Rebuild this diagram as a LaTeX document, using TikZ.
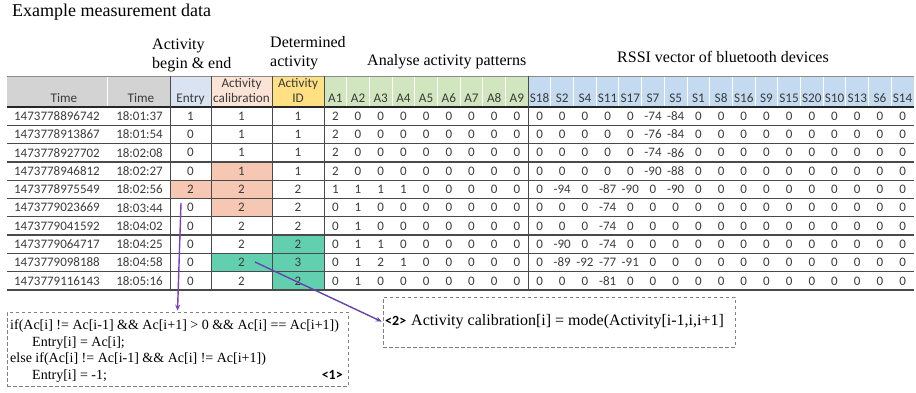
\documentclass[tikz,border=0pt]{standalone}
\usepackage{fontspec}
\setmainfont{Liberation Serif}
\newfontfamily\xlsfont{Carlito}
\usetikzlibrary{arrows.meta}

\definecolor{txt}{HTML}{3B3B3B}
\definecolor{hdgray}{HTML}{D3D3D3}
\definecolor{hdblue}{HTML}{DAE3F2}
\definecolor{hdpeach}{HTML}{FBE3D5}
\definecolor{hdyellow}{HTML}{FFE083}
\definecolor{hdgreen}{HTML}{D1E5BE}
\definecolor{hdsblue}{HTML}{C3DAF0}
\definecolor{peach}{HTML}{F6C8B3}
\definecolor{tealmark}{HTML}{62D0AE}
\definecolor{gridline}{HTML}{4A4A4A}
\definecolor{flowA}{HTML}{7D3FBE}
\definecolor{flowB}{HTML}{6443AE}

% one data row: index, timestamp, clock time, entry, calibration, activity id
\newcommand\tabrow[6]{%
  \node[num, anchor=east] (ts#1) at (100,{107+(#1-0.5)*18.3}) {#2};
  \node[num, anchor=east] (tm#1) at (163,{107+(#1-0.5)*18.3}) {#3};
  \node[num] (en#1) at (190.5,{107+(#1-0.5)*18.3}) {#4};
  \node[num] (ca#1) at (241.5,{107+(#1-0.5)*18.3}) {#5};
  \node[num] (id#1) at (298,{107+(#1-0.5)*18.3}) {#6};
}
% activity pattern and RSSI values of one row
\newcommand\patrow[2]{%
  \foreach \v [count=\k] in {#2} {
    \node[num] (v#1-\k) at ({324+(\k-0.5)*22.69},{107+(#1-0.5)*18.3}) {\v};
  }
}

\begin{document}
\begin{tikzpicture}[x=1pt,y=-1pt,
  num/.style={font={\xlsfont\fontsize{13}{15}\selectfont}, text=txt, inner sep=0pt},
  head/.style={font={\xlsfont\fontsize{13.2}{15}\selectfont}, text=txt, inner sep=0pt, anchor=base},
  group/.style={font={\fontsize{16}{18}\selectfont}, inner sep=0pt, anchor=base west},
  code/.style={font={\fontsize{14}{16}\selectfont}, inner sep=0pt, anchor=base west},
  tag/.style={font={\xlsfont\bfseries\fontsize{14}{16}\selectfont}, inner sep=0pt},
  dashbox/.style={draw=black!50, line width=0.7pt, dash pattern=on 3.5pt off 2.5pt, inner sep=0pt},
  rowline/.style={draw=gridline, line width=1.3pt},
  colline/.style={draw=gridline, line width=0.9pt},
  flow1/.style={draw=flowA, line width=1.4pt, -{Stealth[length=6pt,width=5pt]}, shorten >=1pt},
  flow2/.style={draw=flowB, line width=1.4pt, -{Stealth[length=6pt,width=5pt]}, shorten >=1pt}]
\useasboundingbox (0,0) rectangle (916,392);

% titles above the table
\node[anchor=base west, inner sep=0pt, font={\fontsize{18}{20}\selectfont}] (title) at (12,16) {Example measurement data};
\node[group] (gEntryA) at (152,49) {Activity};
\node[group] (gEntryB) at (152,68) {begin \& end};
\node[group] (gDetA) at (270,47) {Determined};
\node[group] (gDetB) at (270,66) {activity};
\node[group] (gPat) at (367,65) {Analyse activity patterns};
\node[group] (gRssi) at (617,62) {RSSI vector of bluetooth devices};

% header backgrounds
\fill[hdgray] (7,76) rectangle (170,107);
\fill[hdblue] (170,76) rectangle (211,107);
\fill[hdpeach] (211,76) rectangle (272,107);
\fill[hdyellow] (272,76) rectangle (324,107);
\fill[hdgreen] (324,76) rectangle (528,107);
\fill[hdsblue] (528,76) rectangle (914,107);
\draw[white, line width=1pt] (107,76) -- (107,107);
\foreach \k in {1,...,25} {
  \draw[white, line width=1pt] ({324+\k*22.69},76) -- ({324+\k*22.69},107);
}

% highlighted cells
\fill[peach] (211,{107+3*18.3}) rectangle (272,{107+4*18.3});
\fill[peach] (170,{107+4*18.3}) rectangle (211,{107+5*18.3});
\fill[peach] (211,{107+4*18.3}) rectangle (272,{107+6*18.3});
\fill[tealmark] (272,{107+7*18.3}) rectangle (324,290);
\fill[tealmark] (211,{107+8*18.3}) rectangle (272,{107+9*18.3});

% grid
\draw[draw=black!45, line width=0.6pt] (7,76) -- (914,76);
\draw[draw=black!85, line width=1.8pt] (7,107) -- (914,107);
\foreach \r in {1,...,10} {
  \draw[rowline] (7,{107+\r*18.3}) -- (914,{107+\r*18.3});
}
\foreach \x in {170,211,272,324,528} {
  \draw[colline] (\x,76) -- (\x,290);
}

% header labels
\node[head] (hTs) at (64,102.6) {Time};
\node[head] (hTm) at (141,102.6) {Time};
\node[head] (hEn) at (190.5,102.6) {Entry};
\node[head] (hCaA) at (241.5,87.6) {Activity};
\node[head] (hCaB) at (241.5,102.6) {calibration};
\node[head] (hIdA) at (298,87.6) {Activity};
\node[head] (hIdB) at (298,102.6) {ID};
\foreach \h [count=\k] in {A1,A2,A3,A4,A5,A6,A7,A8,A9,S18,S2,S4,S11,S17,S7,S5,S1,S8,S16,S9,S15,S20,S10,S13,S6,S14} {
  \node[head] (h\k) at ({324+(\k-0.5)*22.69},102.6) {\h};
}

% data rows
\tabrow{1}{1473778896742}{18:01:37}{1}{1}{1}
\tabrow{2}{1473778913867}{18:01:54}{0}{1}{1}
\tabrow{3}{1473778927702}{18:02:08}{0}{1}{1}
\tabrow{4}{1473778946812}{18:02:27}{0}{1}{1}
\tabrow{5}{1473778975549}{18:02:56}{2}{2}{2}
\tabrow{6}{1473779023669}{18:03:44}{0}{2}{2}
\tabrow{7}{1473779041592}{18:04:02}{0}{2}{2}
\tabrow{8}{1473779064717}{18:04:25}{0}{2}{2}
\tabrow{9}{1473779098188}{18:04:58}{0}{2}{3}
\tabrow{10}{1473779116143}{18:05:16}{0}{2}{2}

\patrow{1}{2,0,0,0,0,0,0,0,0,0,0,0,0,0,-74,-84,0,0,0,0,0,0,0,0,0,0}
\patrow{2}{2,0,0,0,0,0,0,0,0,0,0,0,0,0,-76,-84,0,0,0,0,0,0,0,0,0,0}
\patrow{3}{2,0,0,0,0,0,0,0,0,0,0,0,0,0,-74,-86,0,0,0,0,0,0,0,0,0,0}
\patrow{4}{2,0,0,0,0,0,0,0,0,0,0,0,0,0,-90,-88,0,0,0,0,0,0,0,0,0,0}
\patrow{5}{1,1,1,1,0,0,0,0,0,0,-94,0,-87,-90,0,-90,0,0,0,0,0,0,0,0,0,0}
\patrow{6}{0,1,0,0,0,0,0,0,0,0,0,0,-74,0,0,0,0,0,0,0,0,0,0,0,0,0}
\patrow{7}{0,1,0,0,0,0,0,0,0,0,0,0,-74,0,0,0,0,0,0,0,0,0,0,0,0,0}
\patrow{8}{0,1,1,0,0,0,0,0,0,0,-90,0,-74,0,0,0,0,0,0,0,0,0,0,0,0,0}
\patrow{9}{0,1,2,1,0,0,0,0,0,0,-89,-92,-77,-91,0,0,0,0,0,0,0,0,0,0,0,0}
\patrow{10}{0,1,0,0,0,0,0,0,0,0,0,0,-81,0,0,0,0,0,0,0,0,0,0,0,0,0}

% rule boxes
\node[dashbox, minimum width=341pt, minimum height=74pt] (entryrule) at (177.5,349) {};
\node[code] (l1) at (10,329) {if(Ac[i] != Ac[i-1] \&\& Ac[i+1] > 0 \&\& Ac[i] == Ac[i+1])};
\node[code] (l2) at (32,346) {Entry[i] = Ac[i];};
\node[code] (l3) at (10,362) {else if(Ac[i] != Ac[i-1] \&\& Ac[i] != Ac[i+1])};
\node[code] (l4) at (32,379) {Entry[i] = -1;};
\node[tag, anchor=base east] (t1) at (343,379) {<1>};

\node[dashbox, minimum width=352pt, minimum height=50pt] (calibrule) at (559,322) {};
\node[tag, anchor=base west] (t2) at (385,325) {<2>};
\node[anchor=base west, inner sep=0pt, font={\fontsize{16}{18}\selectfont}] (l5) at (411,325) {Activity calibration[i] = mode(Activity[i-1,i,i+1]};

% connectors from the table to the rules
\coordinate (entrytap) at (181,203);
\coordinate (calibtap) at (255,262);
\draw[flow1] (entrytap) -- (entryrule.north);
\draw[flow2] (calibtap) -- (calibrule.west);
\end{tikzpicture}
\end{document}
